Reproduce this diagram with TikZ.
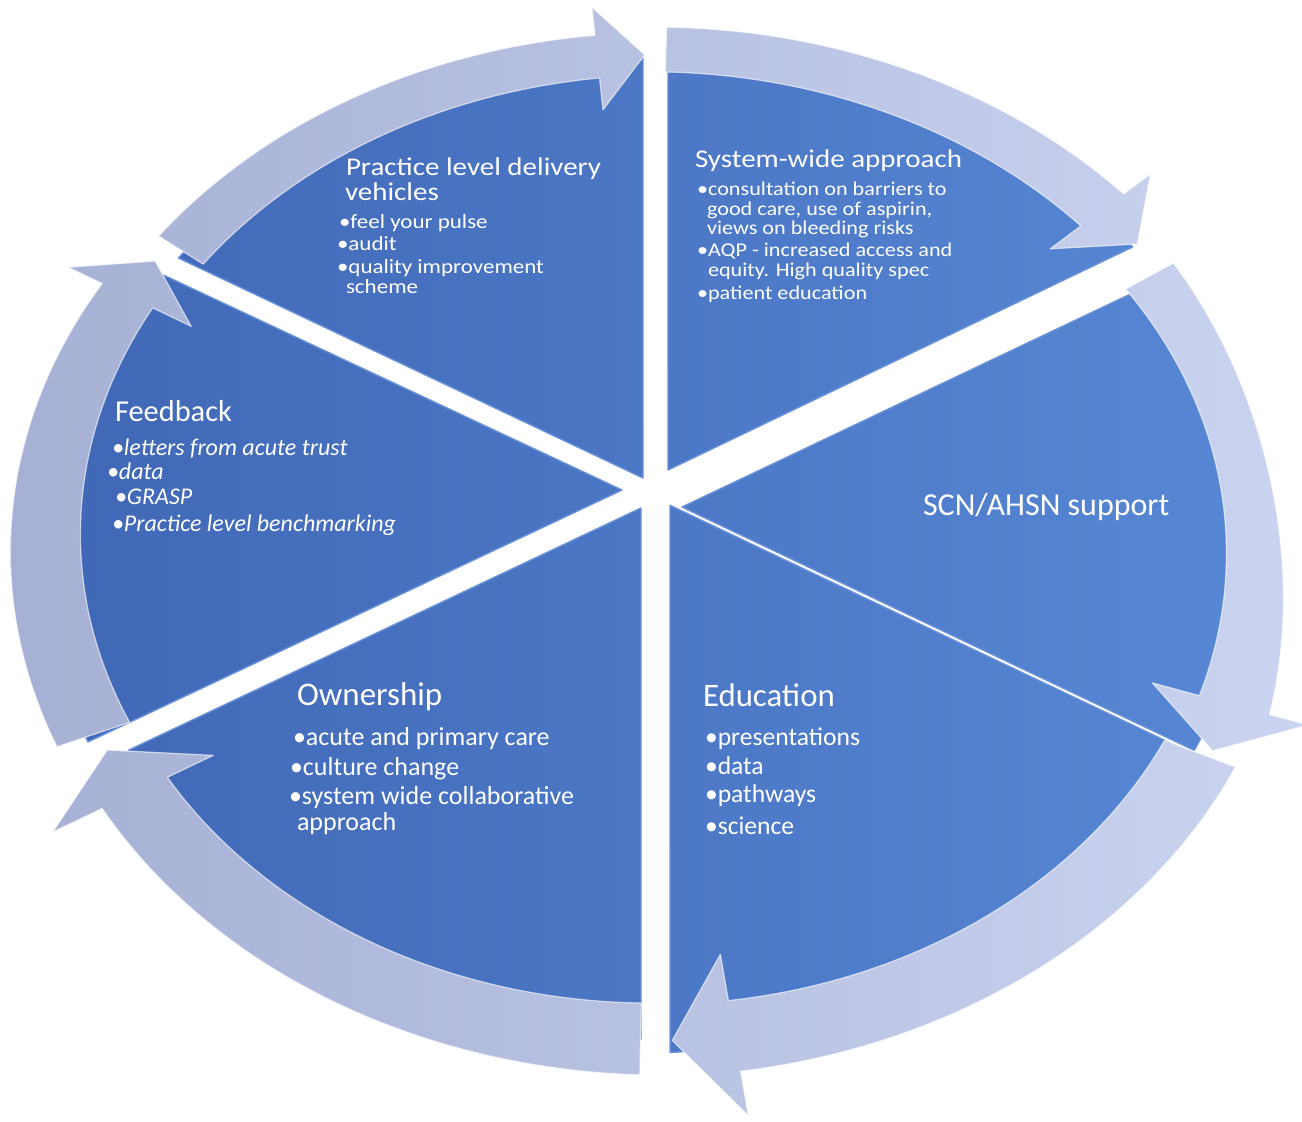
\documentclass[tikz,border=0pt]{standalone}
\usepackage{fontspec}
\setmainfont{Carlito}
\definecolor{wedgeL}{HTML}{3F66B5}
\definecolor{wedgeR}{HTML}{5889D6}
\definecolor{wedgeEdge}{HTML}{6A92DA}
\definecolor{arrowL}{HTML}{A6B0D4}
\definecolor{arrowR}{HTML}{CAD3EF}
\newcommand\FS[1]{\fontsize{#1}{#1}\selectfont}
\newcommand\RingArrow[9]{%
  \path[ringarrow] (#1:#4)
    -- plot[domain=#1:#2,samples=45,variable=\t]
       (\t:{#4+((#5)-(#4))*(\t-(#1))/((#2)-(#1))+(#6)*sin(180*(\t-(#1))/((#2)-(#1)))})
    -- (#2:\barbO) -- (#3:{((#5)+(#8))/2}) -- (#2:\barbI) -- (#2:#8)
    -- plot[domain=#2:#1,samples=45,variable=\t]
       (\t:{#7+((#8)-(#7))*(\t-(#1))/((#2)-(#1))+(#9)*sin(180*(\t-(#1))/((#2)-(#1)))})
    -- cycle;}
\begin{document}
\begin{tikzpicture}[x=0.5pt,y=-0.5pt,
  wedge/.style={draw=wedgeEdge,line width=0.7pt,line join=round,
    path picture={\shade[left color=wedgeL,right color=wedgeR] (bgTL) rectangle (bgBR);}},
  ringarrow/.style={draw=white,draw opacity=0.6,line width=0.6pt,line join=round,
    path picture={\shade[left color=arrowL,right color=arrowR] (bgTL) rectangle (bgBR);}},
  lbl/.style={text=white,anchor=base west,inner sep=0pt,outer sep=0pt},
  flat/.style={yscale=0.88,transform shape},
  hP/.style={lbl,flat,font=\FS{14.5}},
  bP/.style={lbl,flat,font=\FS{11.5}},
  hW/.style={lbl,flat,font=\FS{14.5}},
  bW/.style={lbl,flat,font=\FS{11.1}},
  hS/.style={lbl,font=\FS{16}},
  hF/.style={lbl,font=\FS{15.2}},
  bF/.style={lbl,font=\FS{12}\itshape},
  hO/.style={lbl,font=\FS{16.5}},
  bO/.style={lbl,font=\FS{13}},
  hE/.style={lbl,font=\FS{16.4}},
  bE/.style={lbl,font=\FS{12.8}}]
\coordinate (bgTL) at (0,0);
\coordinate (bgBR) at (1302,1121);
\path[fill=white,use as bounding box] (bgTL) rectangle (bgBR);
% wedge tips near the centre
\coordinate (tipP) at (643,478);
\coordinate (tipW) at (668,470);
\coordinate (tipS) at (682,507);
\coordinate (tipE) at (670,505.3);
\coordinate (tipO) at (641,508);
\coordinate (tipF) at (622,490);
\begin{scope}[shift={(650,547)},x={(302.5pt,0pt)},y={(0pt,246pt)}]
  % wedges
  \path[wedge] (tipP) -- (143:0.976)
    -- plot[domain=143:90.67,samples=40,variable=\t] (\t:{0.976+0.019*(\t-143)/(-52.33)}) -- cycle;
  \path[wedge] (tipW) -- (37.4:1.004)
    -- plot[domain=37.4:88.28,samples=40,variable=\t] (\t:{1.004-0.014*(\t-37.4)/(50.88)}) -- cycle;
  \path[wedge] (tipS) -- (32.8:0.99)
    -- plot[domain=32.8:-24.68,samples=40,variable=\t] (\t:0.99) -- cycle;
  \path[wedge] (tipE) -- (-25.12:0.9968)
    -- plot[domain=-25.12:-88.15,samples=40,variable=\t] (\t:{0.9968+0.0312*(\t+25.12)/(-63.03)}) -- cycle;
  \path[wedge] (tipO) -- (205.6:0.956)
    -- plot[domain=205.6:269.15,samples=40,variable=\t] (\t:{0.956+0.044*(\t-205.6)/(63.55)}) -- cycle;
  \path[wedge] (tipF) -- (145.5:0.976)
    -- plot[domain=145.5:203.1,samples=40,variable=\t] (\t:{0.976+0.034*(\t-145.5)/(57.6)}) -- cycle;
  % curved arrows
  \def\barbO{1.101}\def\barbI{0.892}
  \RingArrow{142.1}{95}{90.5}{1.029}{1.044}{0}{0.936}{0.957}{0}
  \def\barbO{1.122}\def\barbI{0.897}
  \RingArrow{88.5}{42.5}{37.4}{1.057}{1.062}{0}{0.966}{0.966}{0}
  \def\barbO{1.146}\def\barbI{0.875}
  \RingArrow{33.7}{-18.4}{-24}{1.04}{1.079}{-0.025}{0.945}{0.957}{0}
  \def\barbO{1.167}\def\barbI{0.836}
  \RingArrow{-24.8}{-82}{-87.9}{1.066}{1.076}{0}{0.937}{0.931}{0}
  \def\barbO{1.1445}\def\barbI{0.837}
  \RingArrow{269.1}{210.4}{204.7}{1.073}{1.050}{0}{0.927}{0.925}{0}
  \def\barbO{1.117}\def\barbI{0.881}
  \RingArrow{202.5}{149.4}{144.6}{1.061}{1.052}{0}{0.931}{0.955}{0}
\end{scope}
% Practice level delivery vehicles
\node[hP] (p1) at (346,175) {Practice level delivery};
\node[hP] (p2) at (345,200) {vehicles};
\node[bP] (p3) at (339,228) {•feel your pulse};
\node[bP] (p4) at (337,250) {•audit};
\node[bP] (p5) at (337,273) {•quality improvement};
\node[bP] (p6) at (346,293) {scheme};
% System-wide approach
\node[hW] (w1) at (695,167) {System-wide approach};
\node[bW] (w2) at (697,195.5) {•consultation on barriers to};
\node[bW] (w3) at (707,215) {good care, use of aspirin,};
\node[bW] (w4) at (707,234.5) {views on bleeding risks};
\node[bW] (w5) at (697,256) {•AQP - increased access and};
\node[bW] (w6) at (708,276) {equity. High quality spec};
\node[bW] (w7) at (697,299) {•patient education};
% SCN
\node[hS] (s1) at (923,515) {SCN/AHSN support};
% Feedback
\node[hF] (f1) at (115,421) {Feedback};
\node[bF] (f2) at (112,455) {•letters from acute trust};
\node[bF] (f3) at (107,479) {•data};
\node[bF] (f4) at (115,504) {•GRASP};
\node[bF] (f5) at (112,531) {•Practice level benchmarking};
% Ownership
\node[hO] (o1) at (297,705) {Ownership};
\node[bO] (o2) at (293,745) {•acute and primary care};
\node[bO] (o3) at (290,775) {•culture change};
\node[bO] (o4) at (289,804) {•system wide collaborative};
\node[bO] (o5) at (297,830) {approach};
% Education
\node[hE] (e1) at (703,706) {Education};
\node[bE] (e2) at (705,745) {•presentations};
\node[bE] (e3) at (705,774) {•data};
\node[bE] (e4) at (705,802) {•pathways};
\node[bE] (e5) at (705,834) {•science};
\end{tikzpicture}
\end{document}
